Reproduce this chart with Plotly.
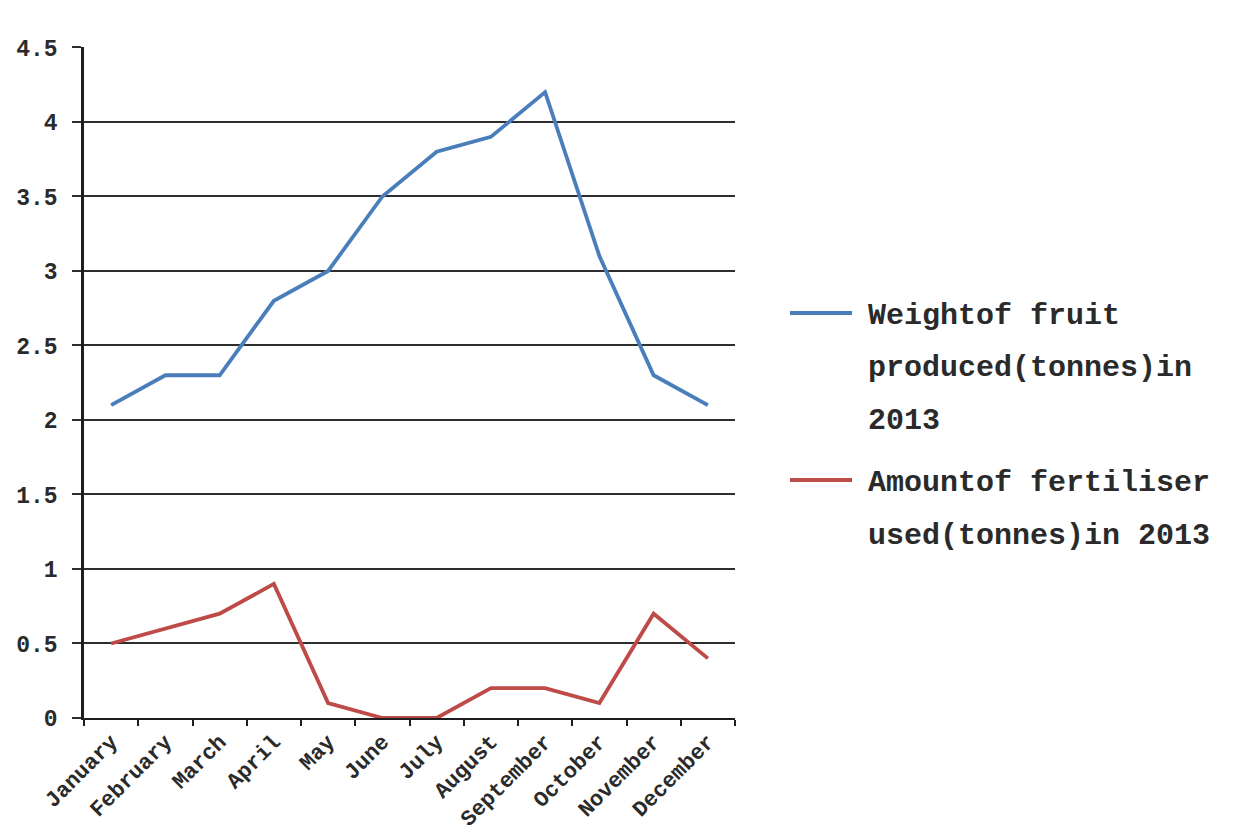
import plotly.graph_objects as go

months = ["January", "February", "March", "April", "May", "June", "July",
          "August", "September", "October", "November", "December"]
fruit_weight = [2.1, 2.3, 2.3, 2.8, 3.0, 3.5, 3.8, 3.9, 4.2, 3.1, 2.3, 2.1]
fertiliser_used = [0.5, 0.6, 0.7, 0.9, 0.1, 0.0, 0.0, 0.2, 0.2, 0.1, 0.7, 0.4]
y_ticks = [0, 0.5, 1, 1.5, 2, 2.5, 3, 3.5, 4, 4.5]
y_tick_text = ["0", "0.5", "1", "1.5", "2", "2.5", "3", "3.5", "4", "4.5"]

BLUE = "#4a7ebb"
RED = "#be4b48"
INK = "#1e1e1e"
FONT = "Liberation Mono"

fig = go.Figure()
fig.add_trace(go.Scatter(x=months, y=fruit_weight, mode="lines",
                         line=dict(color=BLUE, width=3.8),
                         name="Weightof fruit produced(tonnes)in 2013",
                         showlegend=False))
fig.add_trace(go.Scatter(x=months, y=fertiliser_used, mode="lines",
                         line=dict(color=RED, width=3.8),
                         name="Amountof fertiliser used(tonnes)in 2013",
                         showlegend=False))

# Legend drawn as sample strokes plus wrapped text lines
legend_entries = [
    (BLUE, 0.0, ["Weightof fruit", "produced(tonnes)in", "2013"]),
    (RED, 167.0, ["Amountof fertiliser", "used(tonnes)in 2013"]),
]
top_y = 313.0
line_gap = 52.5
for color, offset, lines in legend_entries:
    y0 = top_y + offset
    fig.add_shape(type="line", xref="paper", yref="paper",
                  x0=(790 - 84) / 651.0, x1=(852 - 84) / 651.0,
                  y0=(718 - y0) / 671.0, y1=(718 - y0) / 671.0,
                  line=dict(color=color, width=4))
    for i, txt in enumerate(lines):
        yy = y0 + 3 + i * line_gap
        fig.add_annotation(xref="paper", yref="paper",
                           x=(866 - 84) / 651.0, y=(718 - yy) / 671.0,
                           text=txt, showarrow=False, xanchor="left",
                           yanchor="middle",
                           font=dict(family=FONT, size=30, color="#2a2a2a",
                                     weight="bold"))

fig.update_layout(
    width=1242, height=835,
    margin=dict(l=84, r=507, t=47, b=117),
    paper_bgcolor="white", plot_bgcolor="white",
    font=dict(family=FONT, color=INK),
    showlegend=False,
)
fig.update_xaxes(
    type="category", range=[-0.5, 11.5], automargin=False, showgrid=False,
    showline=True, linecolor=INK, linewidth=2, ticks="outside",
    tickson="boundaries", ticklen=6, tickcolor=INK, tickwidth=2,
    tickangle=-45,
    tickfont=dict(family=FONT, size=22, color="#2a2a2a", weight="bold"),
)
fig.update_yaxes(
    range=[0, 4.503], tickvals=y_ticks, ticktext=y_tick_text,
    automargin=False,
    showgrid=True, gridcolor="#2e2e2e", gridwidth=2,
    showline=True, linecolor=INK, linewidth=2.5,
    zeroline=False, ticks="outside", ticklen=9, tickcolor="#2e2e2e",
    tickwidth=2, ticklabelstandoff=10,
    tickfont=dict(family=FONT, size=23, color="#2a2a2a", weight="bold"),
)

fig.write_html("out.html")
